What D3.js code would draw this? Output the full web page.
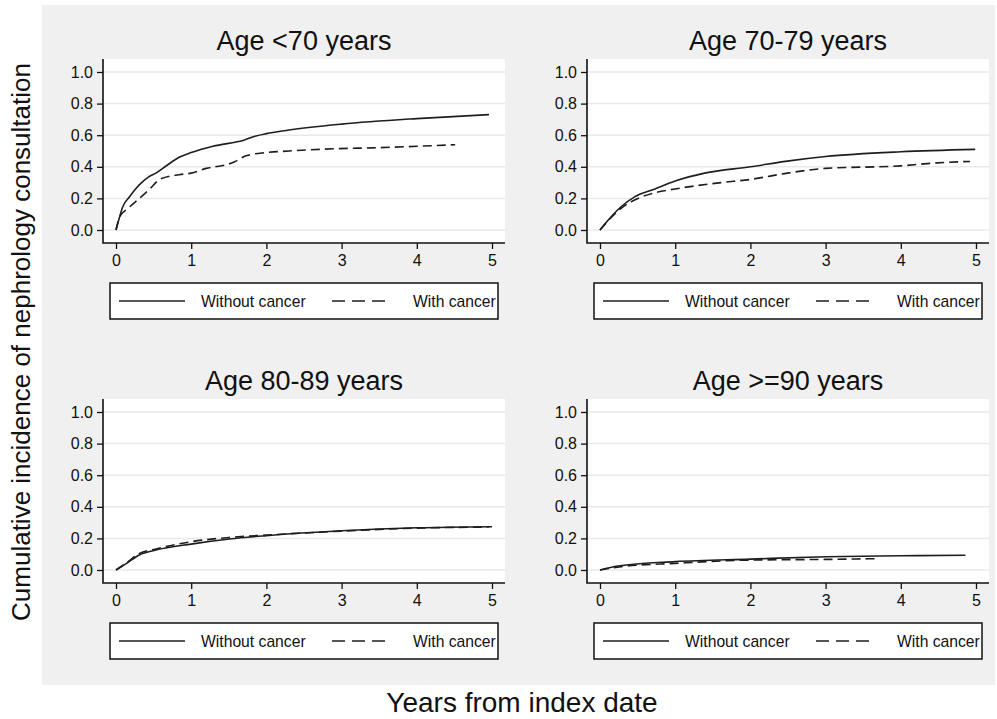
<!DOCTYPE html>
<html>
<head>
<meta charset="utf-8">
<style>
  body { margin: 0; background: #fff; }
  svg { display: block; font-family: "Liberation Sans", Arial, sans-serif; }
  .grid line { stroke: #e9e9e9; stroke-width: 1.5; }
  .tick text { fill: #111; }
</style>
<script src="https://cdn.jsdelivr.net/npm/d3@7"></script>
</head>
<body>
<script>
// panel titles
var panelTitles = ["Age <70 years", "Age 70-79 years", "Age 80-89 years", "Age >=90 years"];
var seriesNames = ["Without cancer", "With cancer"];
var xTicks = [0, 1, 2, 3, 4, 5];
var yTicks = [0, 0.2, 0.4, 0.6, 0.8, 1.0];

// [years, cumulative incidence]
var lt70Without = [[0,0],[0.04,0.07],[0.09,0.147],[0.18,0.21],[0.26,0.26],[0.34,0.3],[0.43,0.335],[0.53,0.36],
  [0.68,0.41],[0.84,0.46],[1.0,0.49],[1.29,0.53],[1.71,0.57],[1.86,0.595],[2.0,0.61],[2.26,0.63],
  [3.0,0.67],[4.0,0.705],[4.96,0.73]];
var lt70With = [[0,0],[0.05,0.084],[0.16,0.137],[0.31,0.2],[0.45,0.26],[0.58,0.32],[0.84,0.35],[1.0,0.36],
  [1.2,0.39],[1.44,0.41],[1.57,0.43],[1.73,0.47],[2.0,0.49],[2.3,0.5],[2.97,0.515],[3.41,0.52],[4.51,0.54]];

var a7079Without = [[0,0],[0.11,0.063],[0.28,0.147],[0.46,0.21],[0.73,0.26],[1.0,0.31],[1.39,0.36],
  [2.0,0.4],[2.49,0.436],[3.0,0.465],[4.0,0.495],[4.99,0.51]];
var a7079With = [[0,0],[0.11,0.06],[0.28,0.137],[0.46,0.19],[0.73,0.236],[1.0,0.26],[1.61,0.3],[2.0,0.32],
  [2.49,0.36],[3.0,0.39],[4.0,0.406],[4.48,0.425],[4.92,0.434]];

var a8089Without = [[0,0],[0.14,0.042],[0.31,0.095],[0.53,0.126],[1.0,0.164],[1.51,0.196],[2.0,0.217],
  [3.0,0.248],[4.0,0.267],[5.0,0.274]];
var a8089With = [[0,0],[0.14,0.045],[0.31,0.105],[0.53,0.133],[1.0,0.179],[1.51,0.206],[2.0,0.221],
  [3.0,0.246],[4.0,0.265],[4.96,0.272]];

var ge90Without = [[0,0],[0.24,0.025],[1.0,0.053],[2.0,0.069],[3.0,0.084],[4.0,0.09],[4.86,0.093]];
var ge90With = [[0,0],[0.28,0.021],[1.0,0.042],[2.0,0.063],[3.0,0.067],[3.71,0.072]];

var panelSeries = [[lt70Without, lt70With], [a7079Without, a7079With],
                   [a8089Without, a8089With], [ge90Without, ge90With]];

var W = 997, H = 719;
var svg = d3.select("body").append("svg").attr("width", W).attr("height", H);

// grey graph region
svg.append("rect").attr("x", 42).attr("y", 5).attr("width", 953).attr("height", 680).attr("fill", "#f0f0f0");

// plot region positions (white box)
var boxes = [{x: 103, y: 59}, {x: 587, y: 59}, {x: 103, y: 399}, {x: 587, y: 399}];
var boxW = 402, boxH = 184, pad = 13;
var dashes = ["none", "9,5"];

panelTitles.forEach(function(title, i) {
  var b = boxes[i];
  var g = svg.append("g").attr("transform", "translate(" + b.x + "," + b.y + ")");

  var x = d3.scaleLinear().domain([0, 5]).range([pad, boxW - pad]);
  var y = d3.scaleLinear().domain([0, 1]).range([boxH - pad, pad]);

  g.append("rect").attr("width", boxW).attr("height", boxH).attr("fill", "#fff");

  g.append("g").attr("class", "grid")
    .selectAll("line").data(yTicks).enter().append("line")
    .attr("x1", 0).attr("x2", boxW)
    .attr("y1", function(d) { return y(d); }).attr("y2", function(d) { return y(d); });

  // curves
  var line = d3.line().curve(d3.curveMonotoneX)
    .x(function(d) { return x(d[0]); }).y(function(d) { return y(d[1]); });
  panelSeries[i].forEach(function(s, k) {
    g.append("path").datum(s).attr("d", line)
      .attr("fill", "none").attr("stroke", "#1e1e1e").attr("stroke-width", 1.6)
      .attr("stroke-dasharray", dashes[k]);
  });

  // axes
  var yAxis = g.append("g").call(d3.axisLeft(y).tickValues(yTicks).tickFormat(d3.format(".1f")).tickSize(6).tickPadding(4));
  yAxis.select(".domain").remove();
  var xAxis = g.append("g").attr("transform", "translate(0," + boxH + ")")
    .call(d3.axisBottom(x).tickValues(xTicks).tickFormat(d3.format("d")).tickSize(6).tickPadding(6));
  xAxis.select(".domain").remove();
  [yAxis, xAxis].forEach(function(a) {
    a.selectAll("text").attr("font-size", 16).attr("font-family", null);
    a.selectAll("line").attr("stroke", "#111").attr("stroke-width", 1.3);
  });
  g.append("path").attr("d", "M0,0V" + boxH + "H" + boxW)
    .attr("fill", "none").attr("stroke", "#111").attr("stroke-width", 1.6);

  // title
  g.append("text").attr("x", boxW / 2).attr("y", -9).attr("text-anchor", "middle")
    .attr("font-size", 27).attr("fill", "#111").text(title);

  // legend
  var lg = g.append("g").attr("transform", "translate(7," + (boxH + 40) + ")");
  lg.append("rect").attr("width", boxW - 14).attr("height", 36)
    .attr("fill", "#fff").attr("stroke", "#111").attr("stroke-width", 1.5);
  var items = [{x1: 9, x2: 75, tx: 91}, {x1: 222, x2: 282, tx: 303}];
  seriesNames.forEach(function(name, k) {
    lg.append("line").attr("x1", items[k].x1).attr("x2", items[k].x2).attr("y1", 18).attr("y2", 18)
      .attr("stroke", "#1e1e1e").attr("stroke-width", 1.6)
      .attr("stroke-dasharray", k === 1 ? "13,7" : "none");
    lg.append("text").attr("x", items[k].tx).attr("y", 23.5)
      .attr("font-size", 15.7).attr("fill", "#111").text(name);
  });
});

// axis titles
svg.append("text").attr("transform", "translate(30,342) rotate(-90)")
  .attr("text-anchor", "middle").attr("font-size", 26).attr("fill", "#111")
  .text("Cumulative incidence of nephrology consultation");
svg.append("text").attr("x", 522).attr("y", 712)
  .attr("text-anchor", "middle").attr("font-size", 28).attr("fill", "#111")
  .text("Years from index date");
</script>
</body>
</html>
